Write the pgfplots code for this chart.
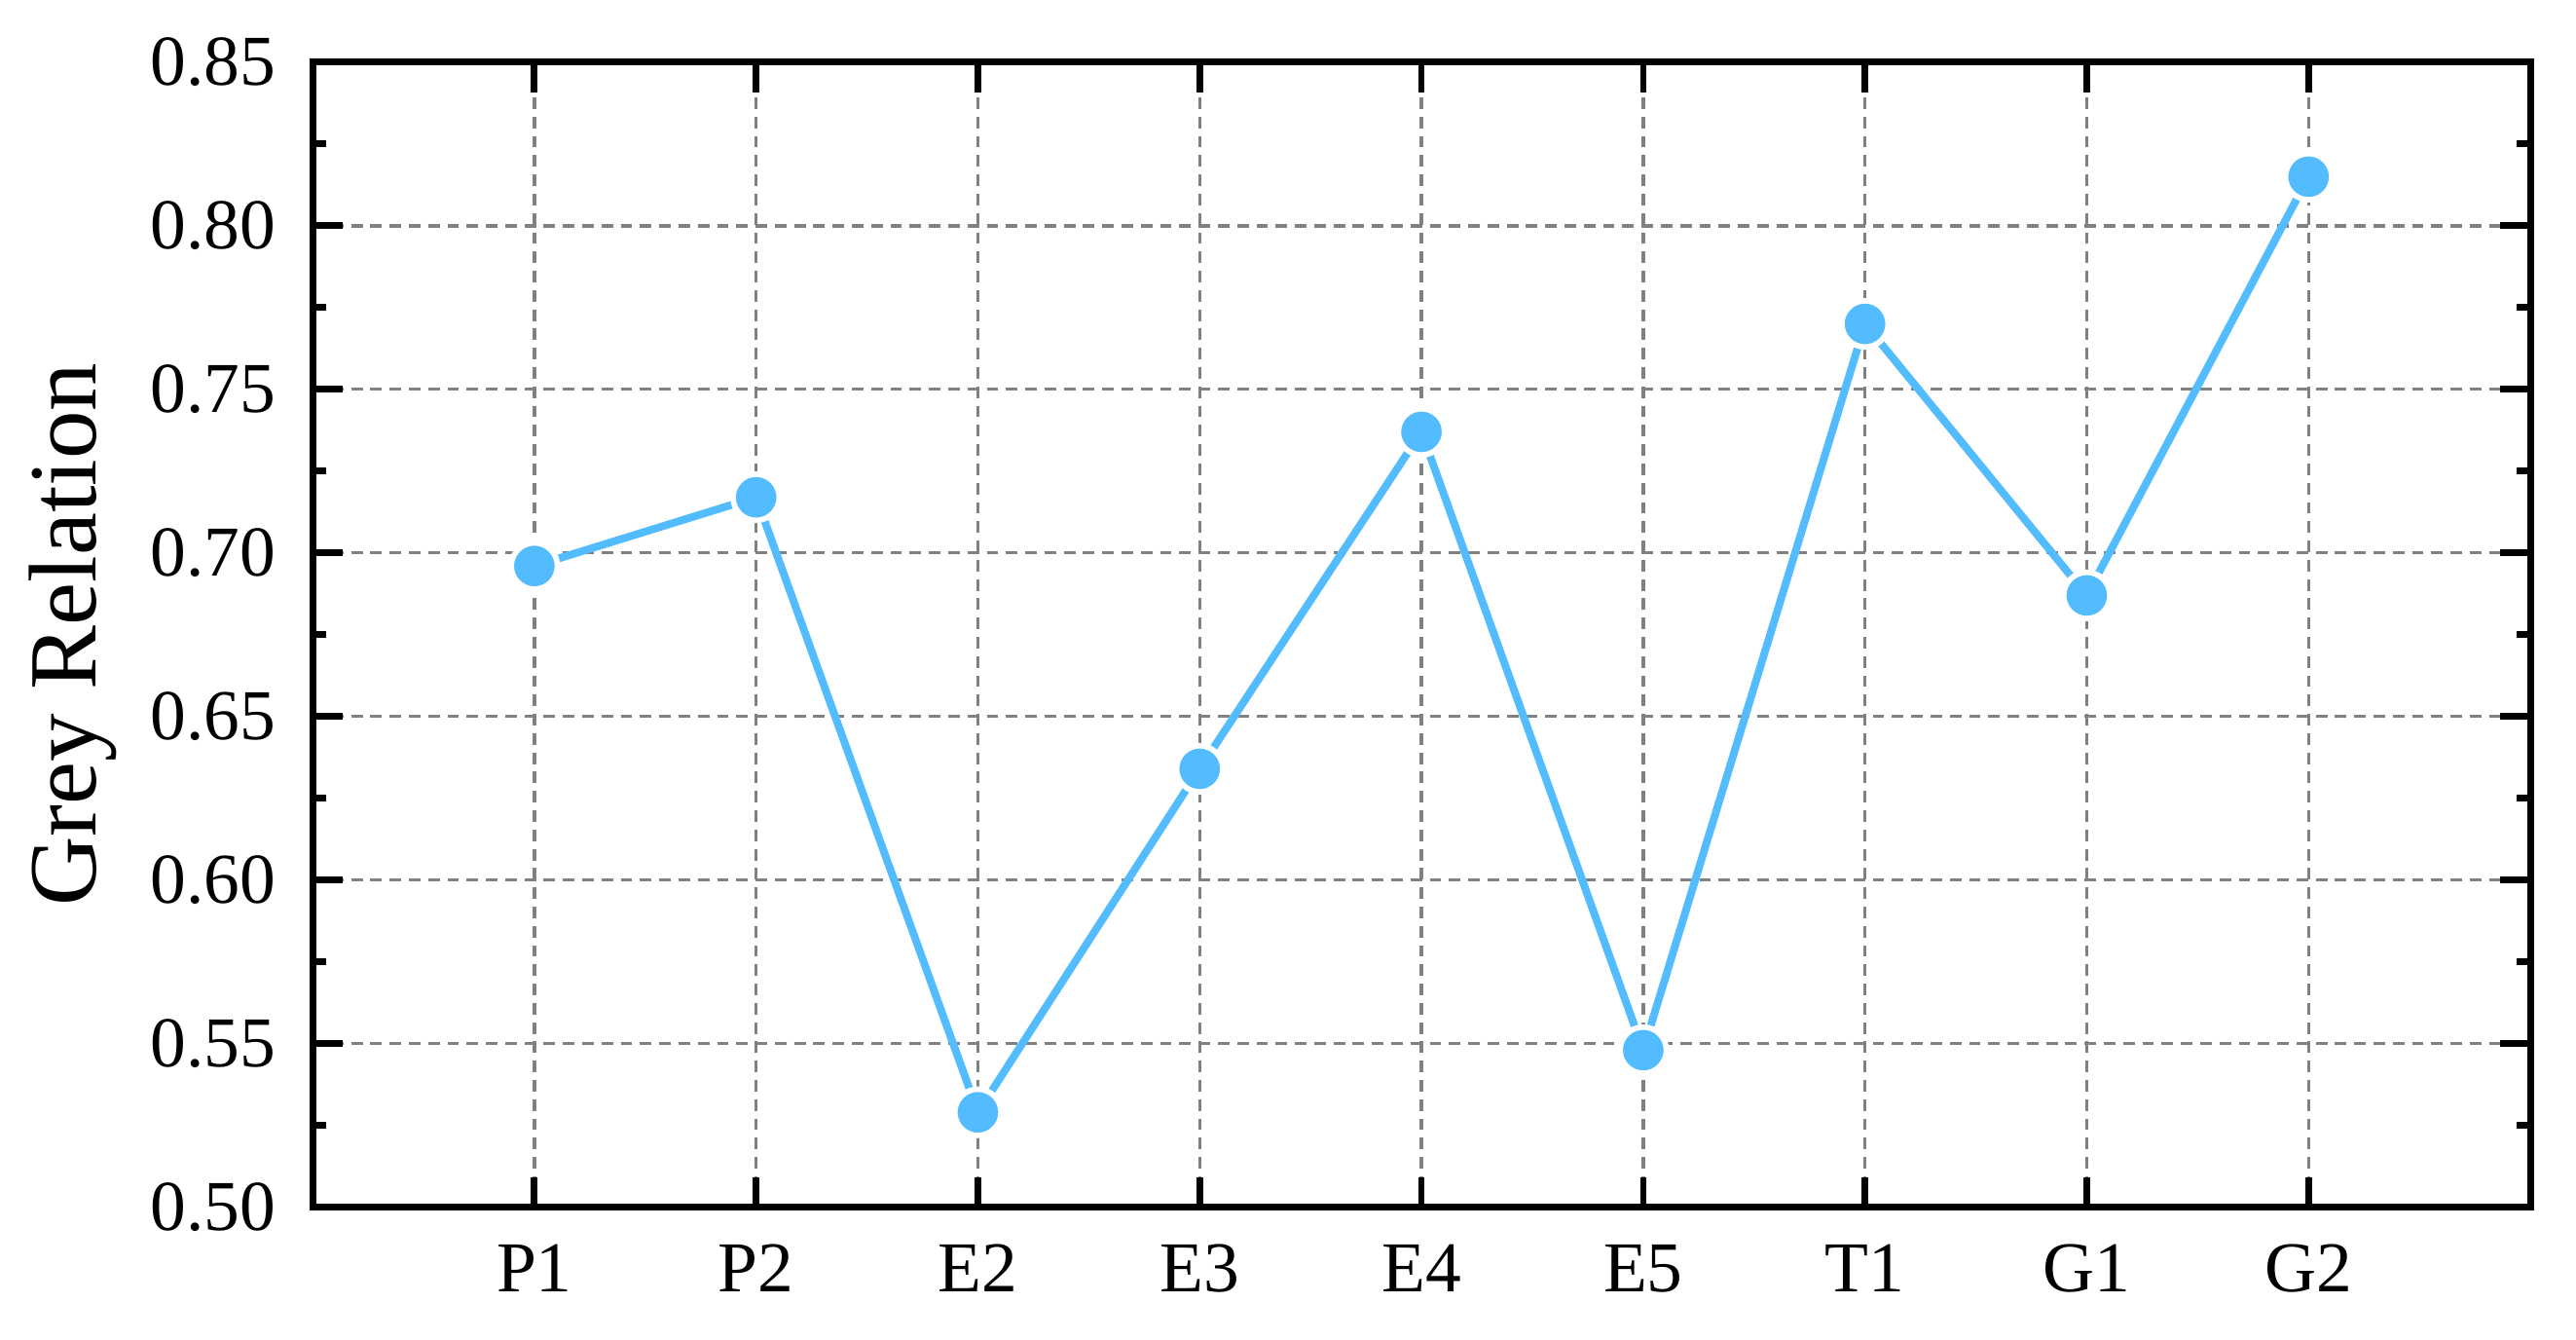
\documentclass[border=0pt]{standalone}
\usepackage{fontspec}
\setmainfont{Liberation Serif}
\usepackage{pgfplots}
\pgfplotsset{compat=1.18}

\definecolor{lineblue}{RGB}{82,188,255}

\begin{document}
\begin{tikzpicture}
\begin{axis}[
    at={(0,0)}, anchor=south west,
    scale only axis,
    width=403pt, height=208pt,
    xmin=-1, xmax=9,
    ymin=0.50, ymax=0.85,
    xtick={0,...,8},
    xticklabels={P1,P2,E2,E3,E4,E5,T1,G1,G2},
    ytick={0.50,0.55,...,0.86},
    minor y tick num=1,
    tick align=inside,
    xtick pos=both, ytick pos=both,
    major tick length=5.5pt, minor tick length=2.5pt,
    every tick/.style={black, line width=1.2pt},
    axis line style={line width=1.25pt},
    grid=major,
    major grid style={gray, line width=0.6pt, dash pattern=on 2.1pt off 1.4pt},
    /pgf/number format/assume math mode=true,
    yticklabel style={/pgf/number format/fixed, /pgf/number format/fixed zerofill,
        /pgf/number format/precision=2, xshift=-3.2pt},
    xticklabel style={yshift=-3.3pt},
    tick label style={font=\fontsize{13}{13}\selectfont},
    ylabel={Grey Relation},
    ylabel style={font=\fontsize{17.5}{17.5}\selectfont, at={(axis description cs:-0.108,0.5)}, anchor=center},
]
\addplot[color=lineblue, line width=1.4pt, mark=*, mark size=4.2pt,
    mark options={fill=lineblue, draw=white, line width=1.0pt}]
coordinates {
    (0,0.696) (1,0.717) (2,0.529) (3,0.634) (4,0.737)
    (5,0.548) (6,0.770) (7,0.687) (8,0.815)
};
\end{axis}
\pgfresetboundingbox
\path (-56.8pt,-24.1pt) rectangle (411.3pt,219.3pt);
\end{tikzpicture}
\end{document}
